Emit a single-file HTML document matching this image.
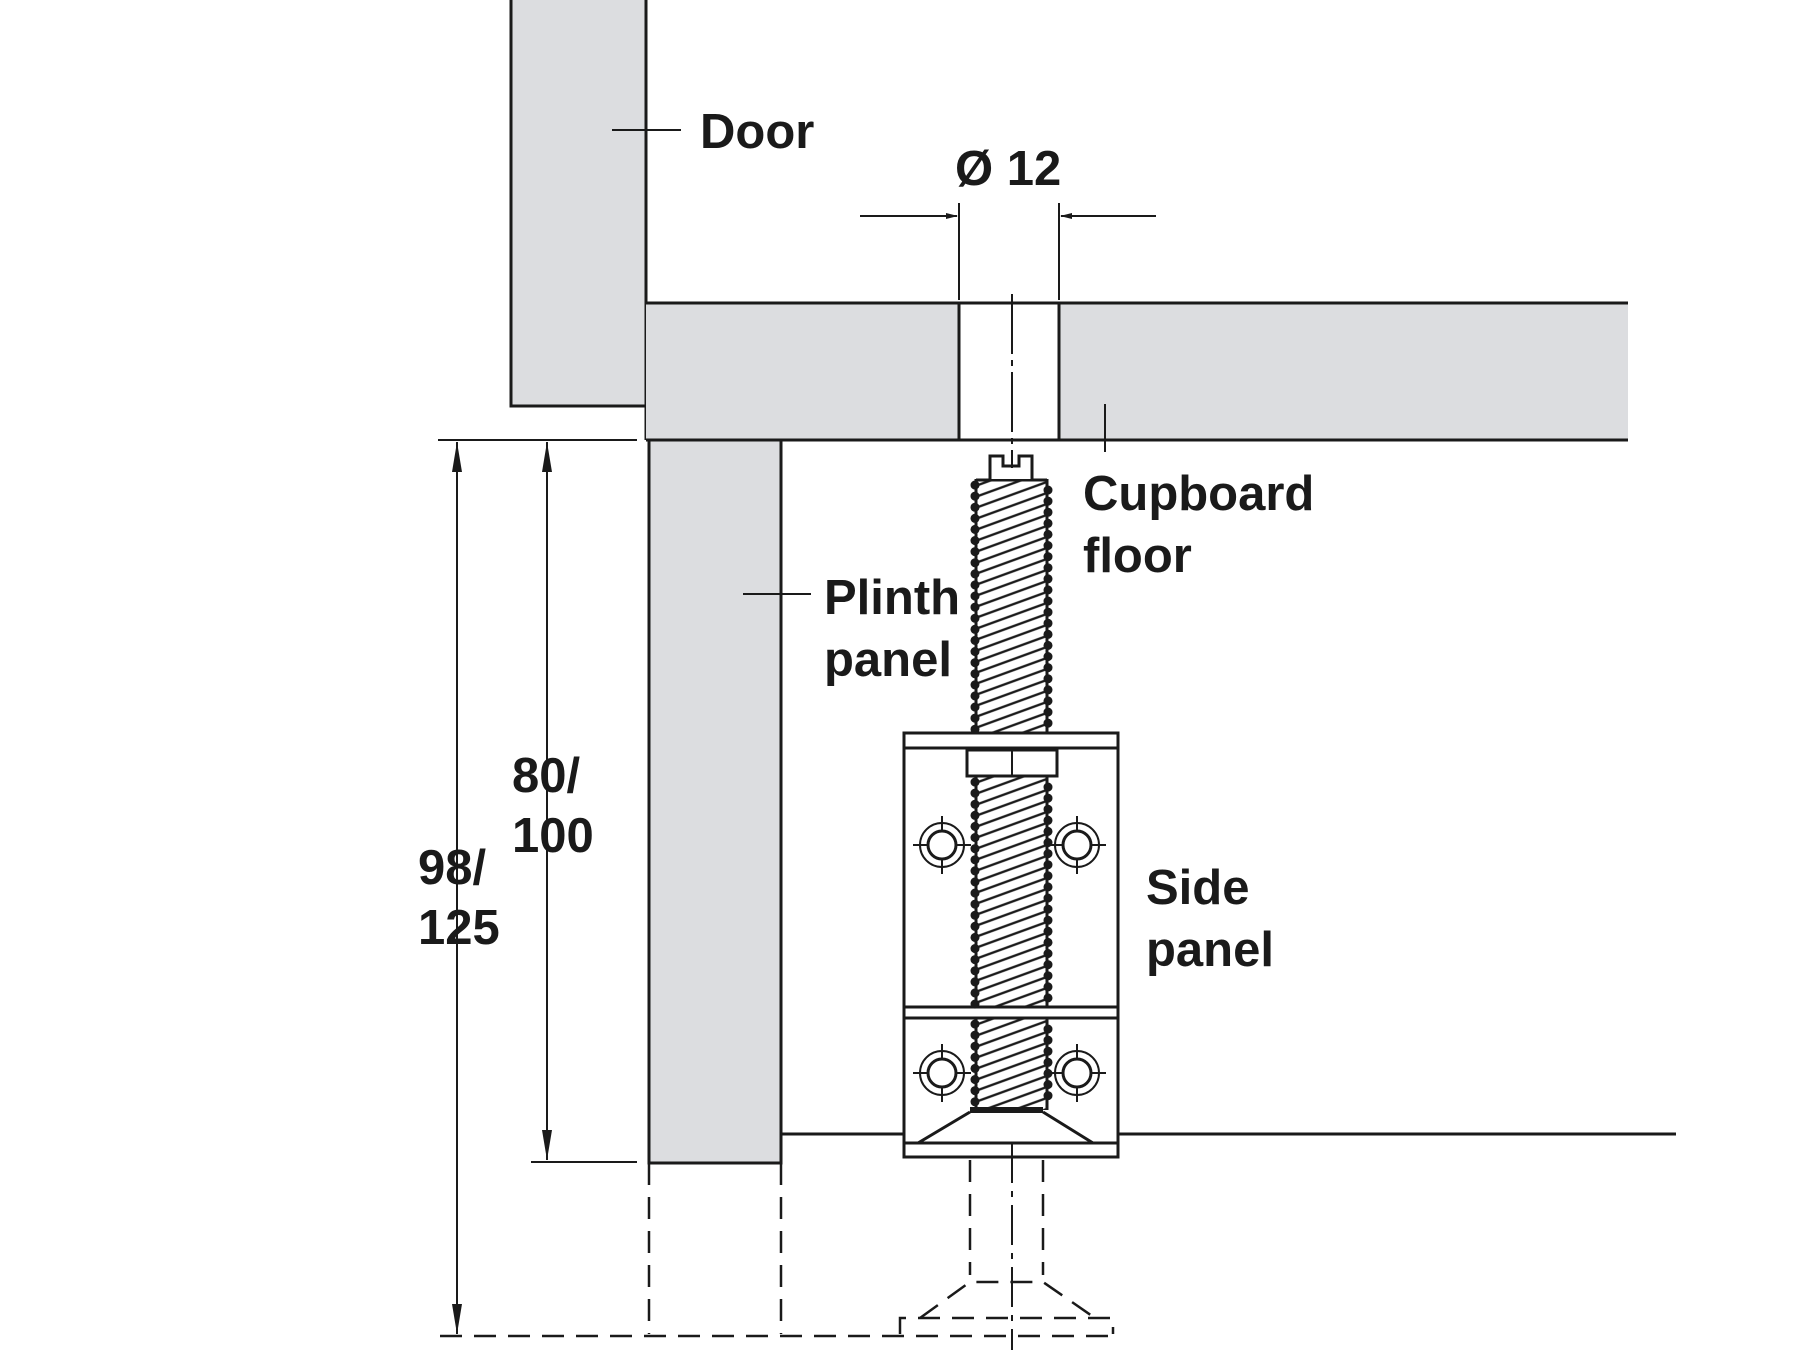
<!DOCTYPE html>
<html><head><meta charset="utf-8"><style>
html,body{margin:0;padding:0;background:#fff}
svg{display:block}
text{font-family:"Liberation Sans",Arial,sans-serif;font-weight:bold;font-size:49px;fill:#1a1a1a}
</style></head><body>
<svg width="1800" height="1350" viewBox="0 0 1800 1350" xmlns="http://www.w3.org/2000/svg">
<defs>
<pattern id="hatch" patternUnits="userSpaceOnUse" width="20" height="11" patternTransform="skewY(-20)">
<line x1="0" y1="5" x2="20" y2="5" stroke="#1a1a1a" stroke-width="2.4"/>
</pattern>
<marker id="ar" markerWidth="12" markerHeight="10" refX="11" refY="5" orient="auto" markerUnits="userSpaceOnUse">
<path d="M0,2 L12,5 L0,8 Z" fill="#1a1a1a"/></marker>
<marker id="arv" viewBox="0 0 30 10" markerWidth="30" markerHeight="10" refX="30" refY="5" orient="auto-start-reverse" markerUnits="userSpaceOnUse">
<path d="M0,0 L30,5 L0,10 Z" fill="#1a1a1a"/></marker>
</defs>
<g stroke="#1a1a1a" stroke-width="3" fill="none">
<rect x="511" y="-5" width="135" height="411" fill="#dcdde0"/>
<line x1="646" y1="0" x2="646" y2="440"/>
<rect x="646" y="303" width="982" height="137" fill="#dcdde0" stroke="none"/>
<line x1="646" y1="303" x2="1628" y2="303"/>
<line x1="646" y1="440" x2="1628" y2="440"/>
<rect x="959" y="303" width="100" height="137" fill="#fff"/>
<rect x="649" y="440" width="132" height="723" fill="#dcdde0"/>
<line x1="781" y1="1134" x2="1676" y2="1134"/>
<rect x="904" y="733" width="214" height="424" fill="#fff"/>
<line x1="904" y1="748" x2="1118" y2="748"/>
<line x1="904" y1="1007" x2="1118" y2="1007"/>
<line x1="904" y1="1018" x2="1118" y2="1018"/>
<line x1="904" y1="1143" x2="1118" y2="1143"/>
</g>
<g stroke="#1a1a1a">
<rect x="976" y="479" width="71" height="254" fill="url(#hatch)" stroke="none"/>
<rect x="976" y="776" width="71" height="231" fill="url(#hatch)" stroke="none"/>
<rect x="976" y="1018" width="71" height="92" fill="url(#hatch)" stroke="none"/>
<g stroke-width="3" fill="none">
<line x1="976" y1="479" x2="976" y2="733"/><line x1="1047" y1="479" x2="1047" y2="733"/>
<line x1="976" y1="776" x2="976" y2="1007"/><line x1="1047" y1="776" x2="1047" y2="1007"/>
<line x1="976" y1="1018" x2="976" y2="1110"/><line x1="1047" y1="1018" x2="1047" y2="1110"/>
<line x1="976" y1="480" x2="1047" y2="480"/>
</g>
<g stroke-width="9" stroke-linecap="round" stroke-dasharray="0.1,11" fill="none">
<line x1="975" y1="485" x2="975" y2="733"/><line x1="1048" y1="490" x2="1048" y2="733"/>
<line x1="975" y1="782" x2="975" y2="1007"/><line x1="1048" y1="787" x2="1048" y2="1007"/>
<line x1="975" y1="1024" x2="975" y2="1105"/><line x1="1048" y1="1029" x2="1048" y2="1105"/>
</g>
</g>
<g stroke="#1a1a1a" stroke-width="3" fill="none">
<rect x="967" y="750" width="90" height="26" fill="#fff"/>
<line x1="1012" y1="750" x2="1012" y2="776" stroke-width="2"/>
<path d="M990,479 V456 H1003 V466 H1019 V456 H1032 V479" fill="#fff"/>
<path d="M970,1112 L918,1143 M1043,1112 L1093,1143"/>
<rect x="970" y="1107" width="73" height="6" fill="#1a1a1a" stroke="none"/>
</g>
<g stroke="#1a1a1a" stroke-width="2" fill="#fff">
<circle cx="942" cy="845" r="22"/><circle cx="1077" cy="845" r="22"/>
<circle cx="942" cy="1073" r="22"/><circle cx="1077" cy="1073" r="22"/>
<path d="M913,845 H971 M942,816 V874 M1048,845 H1106 M1077,816 V874 M913,1073 H971 M942,1044 V1102 M1048,1073 H1106 M1077,1044 V1102" fill="none"/>
<g stroke-width="3">
<circle cx="942" cy="845" r="14"/><circle cx="1077" cy="845" r="14"/>
<circle cx="942" cy="1073" r="14"/><circle cx="1077" cy="1073" r="14"/>
</g>
</g>
<g stroke="#1a1a1a" stroke-width="2.5" fill="none" stroke-dasharray="22,12">
<line x1="649" y1="1163" x2="649" y2="1334"/>
<line x1="781" y1="1163" x2="781" y2="1334"/>
<line x1="440" y1="1336" x2="1113" y2="1336"/>
<line x1="970" y1="1160" x2="970" y2="1275"/>
<line x1="1043" y1="1160" x2="1043" y2="1275"/>
<path d="M920,1318 L970,1282 H1043 L1095,1318"/>
<path d="M900,1334 V1318 H1113 V1334"/>
</g>
<g stroke="#1a1a1a" stroke-width="2" fill="none">
<line x1="1012" y1="294" x2="1012" y2="468" stroke-dasharray="60,6,6,6"/>
<line x1="1012" y1="1143" x2="1012" y2="1350" stroke-dasharray="40,8,6,8"/>
<line x1="612" y1="130" x2="681" y2="130"/>
<line x1="1105" y1="404" x2="1105" y2="452"/>
<line x1="743" y1="594" x2="811" y2="594"/>
<line x1="959" y1="203" x2="959" y2="300"/>
<line x1="1059" y1="203" x2="1059" y2="300"/>
<line x1="860" y1="216" x2="957" y2="216" marker-end="url(#ar)"/>
<line x1="1156" y1="216" x2="1061" y2="216" marker-end="url(#ar)"/>
<line x1="438" y1="440" x2="637" y2="440"/>
<line x1="531" y1="1162" x2="637" y2="1162"/>
<line x1="457" y1="442" x2="457" y2="1334" marker-start="url(#arv)" marker-end="url(#arv)"/>
<line x1="547" y1="442" x2="547" y2="1160" marker-start="url(#arv)" marker-end="url(#arv)"/>
</g>
<text x="700" y="148">Door</text>
<text x="955" y="185">Ø 12</text>
<text x="1083" y="510">Cupboard</text>
<text x="1083" y="572">floor</text>
<text x="824" y="614">Plinth</text>
<text x="824" y="676">panel</text>
<text x="512" y="792">80/</text>
<text x="512" y="852">100</text>
<text x="418" y="884">98/</text>
<text x="418" y="944">125</text>
<text x="1146" y="904">Side</text>
<text x="1146" y="966">panel</text>
</svg>
</body></html>
